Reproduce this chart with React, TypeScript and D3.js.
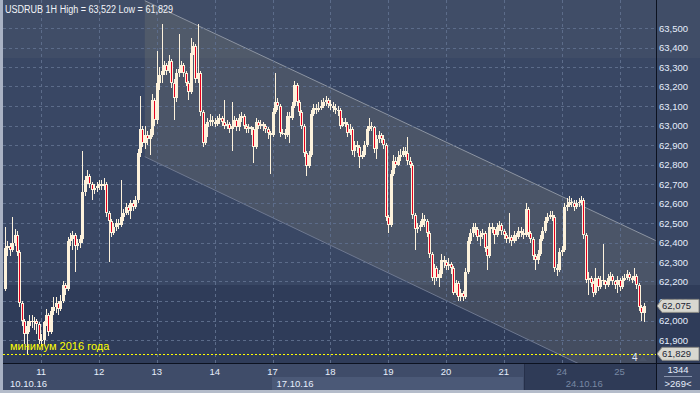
import * as d3 from 'd3';

// hourly USDRUB bars, 10.10.16 07:00 .. 25.10.16; open = previous close
const firstOpen = 62.16;
const closes = [
  62.37, 62.38, 62.36, 62.40, 62.44, 62.35, 62.09, 62.00, 61.93, 61.97, 62.00, 61.99, 62.00, 61.98, 61.90,
  61.90, 61.99, 62.03, 61.94, 62.05, 62.07, 62.09, 62.06, 62.10, 62.18, 62.16, 62.41, 62.42, 62.44, 62.38, 62.40, 62.42, 62.66, 62.72, 62.74, 62.70, 62.67, 62.68, 62.69,
  62.70, 62.69, 62.70, 62.55, 62.51, 62.45, 62.48, 62.50, 62.49, 62.53, 62.55, 62.58, 62.56, 62.60, 62.58, 62.62, 62.86, 62.98, 62.91, 62.95, 62.93, 62.95, 63.13, 63.03,
  63.22, 63.26, 63.28, 63.31, 63.28, 63.33, 63.22, 63.14, 63.27, 63.29, 63.31, 63.27, 63.22, 63.17, 63.37, 63.41, 63.24, 63.27, 63.07, 62.91, 62.99, 63.02, 63.03, 63.02,
  63.01, 63.03, 63.04, 63.02, 63.00, 63.01, 62.98, 63.00, 63.03, 62.99, 63.04, 63.05, 63.00, 62.98, 62.99, 62.98, 62.89, 63.02, 63.00, 63.01, 63.00, 62.98, 62.96, 62.95,
  63.07, 63.12, 63.10, 62.96, 62.96, 62.95, 63.05, 63.04, 63.10, 63.21, 63.12, 63.07, 63.00, 62.86, 62.79, 62.85, 63.06, 63.09, 63.08, 63.09, 63.10, 63.12, 63.13, 63.11,
  63.10, 63.09, 63.08, 63.08, 63.00, 63.02, 63.01, 62.96, 62.98, 62.87, 62.90, 62.89, 62.84, 62.85, 62.90, 62.98, 63.00, 62.99, 62.88, 62.93, 62.95, 62.93, 62.90, 62.53,
  62.49, 62.75, 62.82, 62.80, 62.84, 62.85, 62.87, 62.86, 62.82, 62.80, 62.54, 62.47, 62.48, 62.49, 62.52, 62.51, 62.45, 62.34, 62.22, 62.27, 62.22, 62.24, 62.31, 62.30,
  62.28, 62.29, 62.27, 62.14, 62.19, 62.12, 62.14, 62.12, 62.25, 62.41, 62.45, 62.48, 62.47, 62.43, 62.44, 62.45, 62.37, 62.33, 62.48, 62.47, 62.44, 62.48, 62.49, 62.46,
  62.44, 62.42, 62.43, 62.41, 62.44, 62.43, 62.46, 62.45, 62.44, 62.57, 62.45, 62.42, 62.33, 62.31, 62.34, 62.42, 62.46, 62.51, 62.53, 62.54, 62.53, 62.27, 62.26, 62.35,
  62.36, 62.58, 62.59, 62.61, 62.60, 62.58, 62.60, 62.61, 62.62, 62.44, 62.21, 62.22, 62.19, 62.14, 62.22, 62.17, 62.21, 62.20, 62.18, 62.22, 62.23, 62.20, 62.18, 62.21,
  62.17, 62.21, 62.22, 62.24, 62.22, 62.21, 62.23, 62.18, 62.07, 62.04, 62.075,
];
const highs = [
  62.48, 62.41, 62.40, 62.53, 62.47, 62.46, 62.36, 62.10, 62.01, 62.00, 62.03, 62.03, 62.02, 62.01, 61.99,
  61.93, 62.00, 62.06, 62.04, 62.07, 62.12, 62.12, 62.10, 62.13, 62.20, 62.19, 62.43, 62.45, 62.46, 62.45, 62.42, 62.44, 62.87, 62.74, 62.77, 62.75, 62.71, 62.70, 62.71,
  62.72, 62.72, 62.73, 62.71, 62.56, 62.52, 62.50, 62.52, 62.52, 62.72, 62.57, 62.60, 62.59, 62.62, 62.62, 62.64, 62.88, 63.15, 63.00, 63.00, 62.97, 62.98, 63.16, 63.14,
  63.38, 63.30, 63.52, 63.33, 63.32, 63.36, 63.34, 63.24, 63.29, 63.47, 63.33, 63.32, 63.28, 63.23, 63.45, 63.43, 63.42, 63.522, 63.28, 63.08, 63.01, 63.04, 63.06, 63.05,
  63.04, 63.05, 63.06, 63.05, 63.13, 63.03, 63.02, 63.12, 63.05, 63.04, 63.06, 63.07, 63.06, 63.01, 63.01, 63.00, 62.99, 63.04, 63.03, 63.03, 63.02, 63.01, 62.99, 62.97,
  63.09, 63.27, 63.14, 63.11, 62.98, 62.98, 63.07, 63.07, 63.12, 63.23, 63.22, 63.13, 63.08, 63.01, 62.87, 62.87, 63.08, 63.11, 63.11, 63.12, 63.13, 63.14, 63.15, 63.14,
  63.13, 63.12, 63.11, 63.10, 63.09, 63.04, 63.04, 63.02, 63.01, 62.99, 62.92, 62.92, 62.90, 62.87, 62.92, 63.00, 63.04, 63.02, 63.00, 62.95, 62.97, 62.96, 62.95, 62.91,
  62.54, 62.77, 62.85, 62.84, 62.87, 62.88, 62.89, 62.89, 62.94, 62.84, 62.81, 62.55, 62.50, 62.51, 62.55, 62.54, 62.52, 62.46, 62.35, 62.29, 62.28, 62.26, 62.34, 62.33,
  62.31, 62.32, 62.30, 62.28, 62.21, 62.20, 62.16, 62.15, 62.27, 62.43, 62.47, 62.50, 62.50, 62.48, 62.46, 62.47, 62.46, 62.38, 62.50, 62.50, 62.48, 62.50, 62.51, 62.50,
  62.47, 62.45, 62.55, 62.44, 62.46, 62.45, 62.48, 62.48, 62.47, 62.60, 62.58, 62.46, 62.43, 62.34, 62.36, 62.44, 62.48, 62.53, 62.55, 62.56, 62.56, 62.54, 62.29, 62.37,
  62.38, 62.60, 62.63, 62.64, 62.63, 62.62, 62.62, 62.63, 62.64, 62.63, 62.45, 62.25, 62.23, 62.20, 62.27, 62.23, 62.23, 62.39, 62.21, 62.24, 62.25, 62.24, 62.21, 62.23,
  62.22, 62.23, 62.24, 62.26, 62.25, 62.23, 62.27, 62.24, 62.19, 62.08, 62.09,
];
const lows = [
  62.15, 62.33, 62.33, 62.35, 62.38, 62.33, 62.07, 61.97, 61.88, 61.829, 61.94, 61.96, 61.95, 61.93, 61.88,
  61.87, 61.88, 61.97, 61.92, 61.93, 62.03, 62.04, 62.03, 62.05, 62.09, 62.13, 62.15, 62.38, 62.36, 62.25, 62.36, 62.37, 62.40, 62.64, 62.70, 62.68, 62.62, 62.65, 62.66,
  62.67, 62.67, 62.67, 62.53, 62.30, 62.43, 62.44, 62.46, 62.47, 62.48, 62.51, 62.54, 62.54, 62.52, 62.56, 62.57, 62.60, 62.84, 62.89, 62.88, 62.90, 62.85, 62.94, 63.00,
  63.01, 63.18, 63.22, 63.26, 63.26, 63.27, 63.19, 63.03, 63.12, 63.25, 63.27, 63.25, 63.20, 63.13, 63.16, 63.36, 63.22, 63.22, 63.05, 62.89, 62.90, 62.94, 63.00, 63.00,
  62.99, 63.00, 63.01, 63.00, 62.98, 62.98, 62.96, 62.87, 62.99, 62.97, 62.97, 63.02, 62.98, 62.96, 62.96, 62.95, 62.81, 62.88, 62.98, 62.98, 62.97, 62.96, 62.93, 62.75,
  62.94, 63.06, 63.08, 62.94, 62.95, 62.93, 62.94, 62.91, 63.03, 63.09, 63.10, 63.05, 62.98, 62.84, 62.74, 62.78, 62.84, 63.05, 63.06, 63.07, 63.08, 63.09, 63.10, 63.09,
  63.08, 63.07, 63.06, 63.05, 62.98, 62.99, 62.99, 62.94, 62.95, 62.85, 62.84, 62.86, 62.78, 62.83, 62.84, 62.89, 62.97, 62.97, 62.86, 62.83, 62.91, 62.91, 62.88, 62.51,
  62.45, 62.48, 62.74, 62.78, 62.79, 62.82, 62.84, 62.84, 62.80, 62.78, 62.52, 62.36, 62.45, 62.46, 62.48, 62.48, 62.43, 62.32, 62.20, 62.18, 62.20, 62.17, 62.22, 62.27,
  62.26, 62.26, 62.24, 62.13, 62.13, 62.10, 62.10, 62.10, 62.11, 62.24, 62.39, 62.43, 62.44, 62.41, 62.38, 62.42, 62.35, 62.26, 62.32, 62.45, 62.39, 62.43, 62.46, 62.44,
  62.42, 62.40, 62.40, 62.38, 62.40, 62.41, 62.42, 62.43, 62.42, 62.43, 62.43, 62.40, 62.31, 62.26, 62.29, 62.33, 62.41, 62.45, 62.50, 62.52, 62.51, 62.25, 62.23, 62.25,
  62.33, 62.35, 62.56, 62.58, 62.58, 62.56, 62.57, 62.58, 62.59, 62.42, 62.19, 62.13, 62.17, 62.12, 62.13, 62.15, 62.16, 62.18, 62.16, 62.17, 62.20, 62.18, 62.16, 62.14,
  62.15, 62.16, 62.20, 62.21, 62.20, 62.19, 62.20, 62.16, 62.05, 62.00, 61.99,
];

const dayLabels = ['11', '12', '13', '14', '17', '18', '19', '20', '21', '24', '25'];
const dayStartBar = [15, 39, 63, 87, 111, 135, 159, 183, 207, 231, 255];
const weekLabels = ['10.10.16', '17.10.16', '24.10.16'];
const weekStartBar = [0, 111, 231];
const priceTicks = [61.9, 62.0, 62.1, 62.2, 62.3, 62.4, 62.5, 62.6, 62.7, 62.8, 62.9, 63.0, 63.1, 63.2, 63.3, 63.4, 63.5];

// regression channel: [bar, upper, lower]
const channelFrom = [58, 63.64, 62.84];
const channelTo = [270, 62.41, 61.59];
const yearLow = 61.829;
const lastPrice = 62.075;

const W = 700;
const H = 393;
const plotL = 3;
const plotR = 656;
const plotB = 363;

const ru = d3.formatLocale({ decimal: ',', thousands: ' ', grouping: [3], currency: ['', ''] });
const fmt = ru.format('.3f');

const CREAM = '#fdf2dc';
const RED = '#e6001e';
const FONT = 'Arial, "Liberation Sans", sans-serif';

export default function App() {
  const n = closes.length;
  const x = d3.scaleLinear().domain([0, n - 1]).range([5, 5 + 2.41 * (n - 1)]);
  const y = d3.scaleLinear().domain([62.0, 63.5]).range([320.5, 28]);

  const bars = closes.map((c, i) => ({
    i,
    o: i === 0 ? firstOpen : closes[i - 1],
    c,
    h: highs[i],
    l: lows[i],
  }));

  const channel = [
    [x(channelFrom[0]), y(channelFrom[1])],
    [x(channelTo[0]), y(channelTo[1])],
    [x(channelTo[0]), y(channelTo[2])],
    [x(channelFrom[0]), y(channelFrom[2])],
  ];
  const channelPath = d3.line()(channel as [number, number][]) + 'Z';

  const priceBox = (p: number) => {
    const yc = y(p);
    return `M${plotR + 1},${yc} L${plotR + 6},${yc - 6.5} L${W - 1},${yc - 6.5} L${W - 1},${yc + 6.5} L${plotR + 6},${yc + 6.5} Z`;
  };

  return (
    <svg
      width={W}
      height={H}
      style={{ position: 'absolute', left: 0, top: 0, display: 'block' }}
      fontFamily={FONT}
    >
      <defs>
        <clipPath id="plot">
          <rect x={plotL} y={0} width={plotR - plotL} height={plotB} />
        </clipPath>
      </defs>

      {/* background bands */}
      <rect x={0} y={0} width={W} height={H} fill="#394764" />
      <rect x={0} y={0} width={W} height={58} fill="#404d67" />
      <rect x={0} y={285} width={W} height={plotB - 285} fill="#2f3c59" />

      <g clipPath="url(#plot)">
        <path d={channelPath} fill="#7c7c72" fillOpacity={0.27} />
        <line x1={channel[0][0]} y1={channel[0][1]} x2={channel[1][0]} y2={channel[1][1]} stroke="#8c94a2" strokeWidth={1} />
        <line x1={channel[3][0]} y1={channel[3][1]} x2={channel[2][0]} y2={channel[2][1]} stroke="#6e7890" strokeWidth={1} />

        {priceTicks.map((p) => (
          <line key={p} x1={plotL} x2={plotR} y1={Math.round(y(p)) + 0.5} y2={Math.round(y(p)) + 0.5}
            stroke="#5c6c8a" strokeDasharray="3,3" />
        ))}
        {dayStartBar.map((b) => (
          <line key={b} x1={Math.round(x(b)) + 0.5} x2={Math.round(x(b)) + 0.5} y1={0} y2={plotB}
            stroke="#5c6c8a" strokeDasharray="3,3" />
        ))}

        <g shapeRendering="crispEdges">
          {bars.map((d) => {
            const cx = Math.round(x(d.i));
            const top = Math.round(y(Math.max(d.o, d.c)));
            const bot = Math.round(y(Math.min(d.o, d.c)));
            const hgt = Math.max(1, bot - top);
            const down = d.c < d.o;
            return (
              <g key={d.i}>
                <rect x={cx} y={Math.round(y(d.h))} width={1} height={Math.max(1, Math.round(y(d.l)) - Math.round(y(d.h)))} fill={CREAM} />
                <rect x={cx - 1} y={top} width={3} height={hgt} fill={CREAM} />
                {down && hgt > 2 && <rect x={cx} y={top + 1} width={1} height={hgt - 2} fill={RED} />}
              </g>
            );
          })}
        </g>

        <line x1={plotL} x2={plotR} y1={Math.round(y(yearLow)) + 0.5} y2={Math.round(y(yearLow)) + 0.5}
          stroke="#ffff00" strokeDasharray="2,2" />
        <text x={10} y={350} fill="#ffff00" fontSize={11}>минимум 2016 года</text>
        <text x={632} y={361} fill="#e0e8f8" fontSize={10}>4</text>
        <path d="M639,361 L643,356 L647,361 Z" fill="#4a5468" />
      </g>

      <text x={5} y={13} fill="#f2f4f8" fontSize={10} textLength={168} lengthAdjust="spacingAndGlyphs">
        USDRUB 1H High = 63,522 Low = 61,829
      </text>

      {/* right price axis */}
      {priceTicks.map((p) => (
        <text key={p} x={659} y={y(p) + 3.5} fill="#e6eefc" fontSize={9.5}>{fmt(p)}</text>
      ))}
      <path d={priceBox(lastPrice)} fill="#d8d8d0" stroke="#8a8a86" />
      <text x={662} y={y(lastPrice) + 3.5} fill="#1c2434" fontSize={9.5}>{fmt(lastPrice)}</text>
      <path d={priceBox(yearLow)} fill="#d8d8d0" stroke="#8a8a86" />
      <text x={662} y={y(yearLow) + 3.5} fill="#1c2434" fontSize={9.5}>{fmt(yearLow)}</text>

      {/* time axis */}
      <rect x={0} y={plotB} width={plotR} height={H - plotB} fill="#3f4c69" />
      <rect x={x(weekStartBar[1]) - 0.5} y={377} width={x(weekStartBar[2]) - 38 - x(weekStartBar[1])} height={13} fill="#4b5977" />
      <rect x={524} y={plotB} width={plotR - 524} height={H - plotB} fill="#2f3b57" />
      <line x1={524.5} x2={524.5} y1={plotB} y2={390} stroke="#26304a" />
      <rect x={plotR} y={plotB} width={W - plotR} height={H - plotB} fill="#3b4866" />
      {dayLabels.map((lab, k) => (
        <text key={lab} x={x(dayStartBar[k])} y={375} textAnchor="middle" fontSize={9.5}
          fill={dayStartBar[k] >= 231 ? '#7888a4' : '#e6eefc'}>{lab}</text>
      ))}
      {weekLabels.map((lab, k) => (
        <text key={lab} x={k === 0 ? 10 : x(weekStartBar[k]) + 4} y={387} fontSize={9.5}
          fill={k === 2 ? '#7888a4' : '#e6eefc'}>{lab}</text>
      ))}
      <text x={678} y={373} textAnchor="middle" fontSize={9.5} fill="#e6eefc">1344</text>
      <line x1={664} x2={692} y1={376.5} y2={376.5} stroke="#8a96b0" />
      <text x={678} y={387} textAnchor="middle" fontSize={9.5} fill="#e6eefc">&gt;269&lt;</text>

      {/* frame */}
      <line x1={0} x2={W} y1={plotB + 0.5} y2={plotB + 0.5} stroke="#0c1220" />
      <line x1={plotR + 0.5} x2={plotR + 0.5} y1={0} y2={H} stroke="#0c1220" />
      <rect x={0} y={0} width={3} height={H} fill="#a9b2c4" />
      <rect x={0} y={390} width={W} height={3} fill="#b4bcca" />
    </svg>
  );
}
